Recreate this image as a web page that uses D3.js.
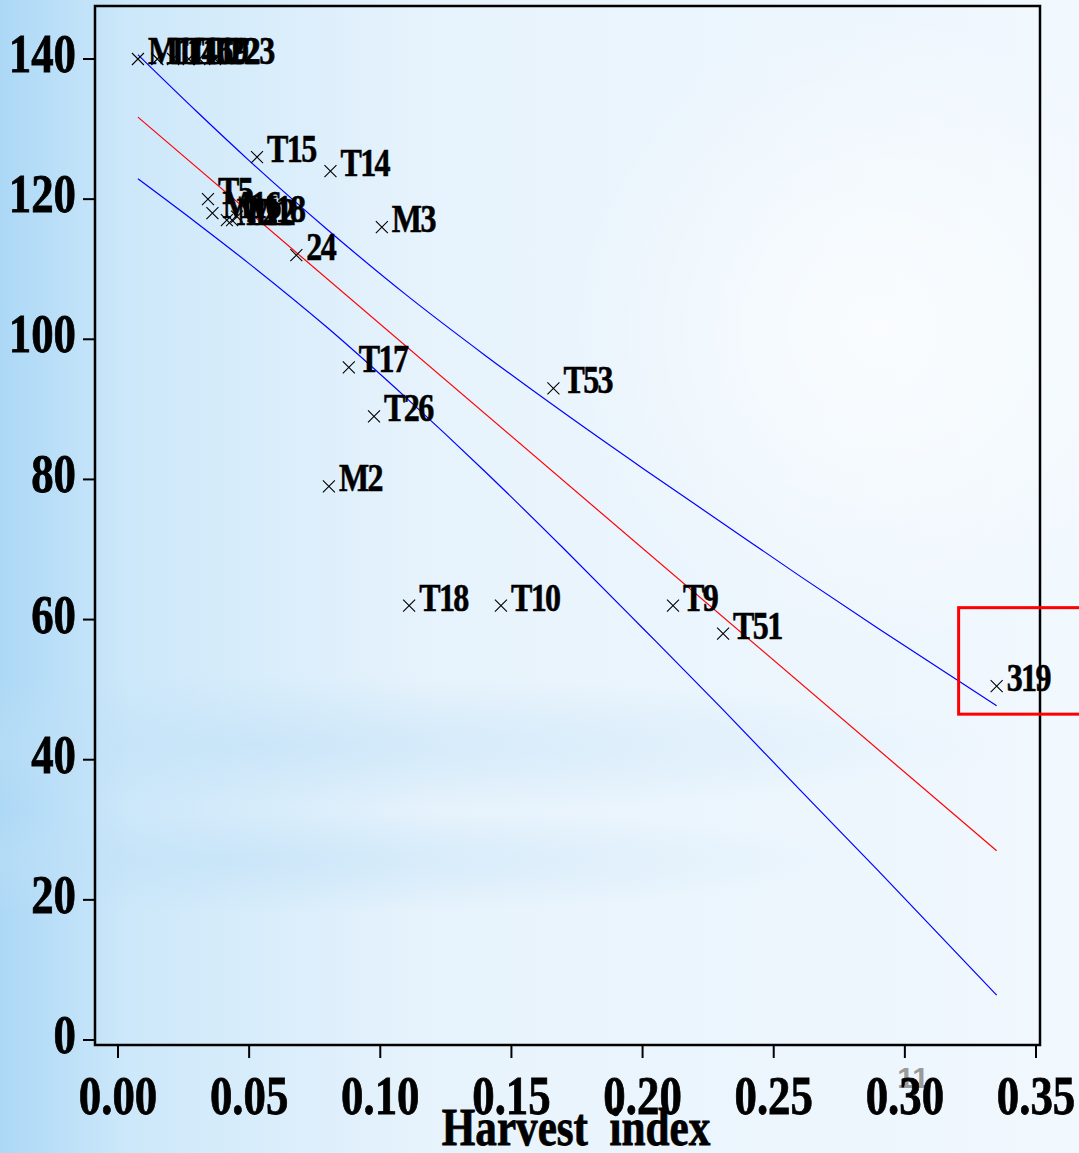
<!DOCTYPE html>
<html>
<head>
<meta charset="utf-8">
<script src="https://cdn.jsdelivr.net/npm/d3@7"></script>
<style>
  body { margin: 0; padding: 0; overflow: hidden; }
  svg { display: block; }
  text { font-family: "Liberation Serif", "Times New Roman", serif; font-weight: bold; }
</style>
</head>
<body>
<div id="graph"></div>
<script>
const width = 1079,
    height = 1153,
    frameLeft = 95, frameRight = 1040, frameTop = 6, frameBottom = 1045, // frame of the plot
    squeeze = 0.83; // the reference font is horizontally condensed

// points: harvest index, value, label
const hiValues = [0.0076, 0.015, 0.021, 0.027, 0.031, 0.037,
                  0.0343, 0.036, 0.0415, 0.0435, 0.0454,
                  0.053, 0.081, 0.1006, 0.068,
                  0.088, 0.0976, 0.0804, 0.166,
                  0.111, 0.146, 0.2116, 0.2307, 0.335];
const yValues = [140, 140, 140, 140, 140, 140,
                 120, 118, 117, 117, 117.5,
                 126, 124, 116, 112,
                 96, 89, 79, 93,
                 62, 62, 62, 58, 50.5];
const labels = ["M11", "T14", "T16", "T19", "T22", "T23",
                "T5", "M16", "M12", "T21", "M18",
                "T15", "T14", "M3", "24",
                "T17", "T26", "M2", "T53",
                "T18", "T10", "T9", "T51", "319"];

// fitted line (end points) and confidence band
const fitX = [0.0076, 0.335];
const fitY = [131.7, 27.0];
const bandX = [0.0076, 0.03, 0.05, 0.08, 0.11, 0.14, 0.17, 0.20, 0.23, 0.26, 0.29, 0.335];
const bandUpper = [140.6, 132.5, 125.5, 115.6, 106.3, 97.7, 89.5, 81.6, 73.9, 66.2, 58.7, 47.7];
const bandLower = [122.9, 116.6, 110.8, 101.6, 91.6, 81.1, 70.1, 58.8, 47.4, 35.7, 24.1, 6.4];

const xTicks = [0, 0.05, 0.10, 0.15, 0.20, 0.25, 0.30, 0.35];
const yTicks = [0, 20, 40, 60, 80, 100, 120, 140];

// highlight box around point 319
const boxX = [0.3205, 0.37];
const boxY = [61.7, 46.5];

const points = hiValues.map((v, i) => ({x: v, y: yValues[i], label: labels[i]}));

const xRange = d3.scaleLinear().domain([0, 0.35]).range([118, 1036]);
const yRange = d3.scaleLinear().domain([0, 140]).range([1040, 59]);

const svg = d3.select("#graph")
    .append("svg")
    .attr("width", width)
    .attr("height", height);

// background
const defs = svg.append("defs");
const bg = defs.append("linearGradient").attr("id", "bg");
bg.append("stop").attr("offset", "0").attr("stop-color", "#acd8f6");
bg.append("stop").attr("offset", "0.12").attr("stop-color", "#cde8fa");
bg.append("stop").attr("offset", "0.4").attr("stop-color", "#e7f3fc");
bg.append("stop").attr("offset", "1").attr("stop-color", "#f1f8fe");
svg.append("rect").attr("width", width).attr("height", height).attr("fill", "url(#bg)");

const band = defs.append("radialGradient").attr("id", "band");
band.append("stop").attr("offset", "0").attr("stop-color", "#bfe0f7").attr("stop-opacity", 0.55);
band.append("stop").attr("offset", "1").attr("stop-color", "#bfe0f7").attr("stop-opacity", 0);
svg.append("ellipse").attr("cx", 250).attr("cy", 745).attr("rx", 750).attr("ry", 70).attr("fill", "url(#band)");
svg.append("ellipse").attr("cx", 200).attr("cy", 860).attr("rx", 650).attr("ry", 55).attr("fill", "url(#band)");

const glow = defs.append("radialGradient").attr("id", "glow");
glow.append("stop").attr("offset", "0").attr("stop-color", "#ffffff").attr("stop-opacity", 0.7);
glow.append("stop").attr("offset", "1").attr("stop-color", "#ffffff").attr("stop-opacity", 0);
svg.append("circle").attr("cx", 880).attr("cy", 330).attr("r", 320).attr("fill", "url(#glow)");

// slide number (behind tick labels)
svg.append("text")
    .attr("x", 913).attr("y", 1088)
    .attr("text-anchor", "middle")
    .style("font-family", "'Liberation Sans', Arial, sans-serif")
    .style("font-size", "30px")
    .attr("fill", "#9a9a9a")
    .text("11");

// frame
svg.append("rect")
    .attr("x", frameLeft).attr("y", frameTop)
    .attr("width", frameRight - frameLeft).attr("height", frameBottom - frameTop)
    .attr("fill", "none").attr("stroke", "#000").attr("stroke-width", 2.5);

// y ticks
svg.selectAll(".ytick")
    .data(yTicks)
    .enter()
    .append("line")
    .attr("x1", frameLeft - 12).attr("x2", frameLeft)
    .attr("y1", d => yRange(d)).attr("y2", d => yRange(d))
    .attr("stroke", "#000").attr("stroke-width", 2);

svg.selectAll(".ylab")
    .data(yTicks)
    .enter()
    .append("text")
    .attr("transform", d => "translate(76," + (yRange(d) + 13) + ") scale(" + squeeze + ",1)")
    .attr("text-anchor", "end")
    .style("font-size", "54px")
    .style("stroke", "#000").style("stroke-width", 0.8)
    .text(d => d);

// x ticks
svg.selectAll(".xtick")
    .data(xTicks)
    .enter()
    .append("line")
    .attr("x1", d => xRange(d)).attr("x2", d => xRange(d))
    .attr("y1", frameBottom).attr("y2", frameBottom + 13)
    .attr("stroke", "#000").attr("stroke-width", 2);

svg.selectAll(".xlab")
    .data(xTicks)
    .enter()
    .append("text")
    .attr("transform", d => "translate(" + xRange(d) + ",1114) scale(" + squeeze + ",1)")
    .attr("text-anchor", "middle")
    .style("font-size", "54px")
    .style("stroke", "#000").style("stroke-width", 0.8)
    .text(d => d.toFixed(2));

svg.append("text")
    .attr("transform", "translate(576,1145) scale(" + squeeze + ",1)")
    .attr("text-anchor", "middle")
    .style("font-size", "52px")
    .style("white-space", "pre")
    .style("stroke", "#000").style("stroke-width", 0.8)
    .text("Harvest  index");

// confidence band and fit
const line = d3.line()
    .x(d => xRange(d[0]))
    .y(d => yRange(d[1]))
    .curve(d3.curveMonotoneX);

svg.append("path")
    .attr("d", line(bandX.map((v, i) => [v, bandUpper[i]])))
    .attr("fill", "none").attr("stroke", "#0000ff").attr("stroke-width", 1.2);
svg.append("path")
    .attr("d", line(bandX.map((v, i) => [v, bandLower[i]])))
    .attr("fill", "none").attr("stroke", "#0000ff").attr("stroke-width", 1.2);
svg.append("path")
    .attr("d", line(fitX.map((v, i) => [v, fitY[i]])))
    .attr("fill", "none").attr("stroke", "#ff0000").attr("stroke-width", 1.2);

// markers
svg.selectAll(".pt")
    .data(points)
    .enter()
    .append("path")
    .attr("transform", d => "translate(" + xRange(d.x) + "," + yRange(d.y) + ")")
    .attr("d", "M-6,-6L6,6M-6,6L6,-6")
    .attr("stroke", "#000").attr("stroke-width", 1.1).attr("fill", "none");

// labels
svg.selectAll(".lab")
    .data(points)
    .enter()
    .append("text")
    .attr("transform", d => "translate(" + (xRange(d.x) + 10) + "," + (yRange(d.y) + 5) + ") scale(0.8,1)")
    .style("font-size", "40px")
    .style("letter-spacing", "-2px")
    .style("stroke", "#000").style("stroke-width", 0.6)
    .text(d => d.label);

// highlight box
svg.append("rect")
    .attr("x", xRange(boxX[0])).attr("y", yRange(boxY[0]))
    .attr("width", xRange(boxX[1]) - xRange(boxX[0]))
    .attr("height", yRange(boxY[1]) - yRange(boxY[0]))
    .attr("fill", "none").attr("stroke", "#ff0000").attr("stroke-width", 3);
</script>
</body>
</html>
